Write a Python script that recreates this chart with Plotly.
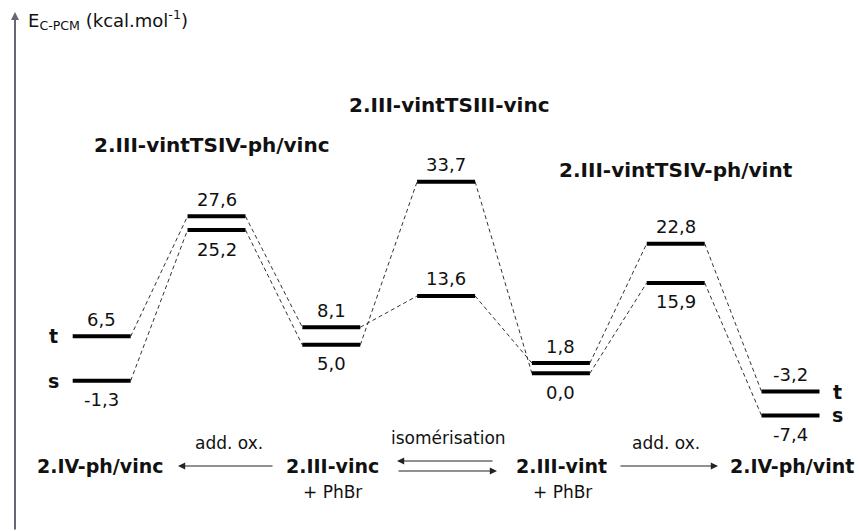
import plotly.graph_objects as go

# energy profile data (kcal/mol), two spin paths
positions = [0, 1, 2, 3, 4, 5, 6]
path_t = [6.5, 27.6, 8.1, 13.6, 1.8, 22.8, -3.2]
path_s = [-1.3, 25.2, 5.0, 33.7, 0.0, 15.9, -7.4]
label_t = ["above"] * 7
label_s = ["below", "below", "below", "above", "below", "below", "below"]

ts_names = ["2.III-vintTSIV-ph/vinc", "2.III-vintTSIII-vinc", "2.III-vintTSIV-ph/vint"]
scheme_names = ["2.IV-ph/vinc", "2.III-vinc", "2.III-vint", "2.IV-ph/vint"]

FONT = "DejaVu Sans"
HALF = 0.2526

# pixel helpers (plot area = whole figure)
X0, DX = 101.7, 114.8
Y0, DY = 373.3, 5.686


def px(p):
    return (p - X0) / DX


def py(p):
    return (Y0 - p) / DY


fig = go.Figure()

for path in [path_t, path_s]:
    bx, by, cx, cy = [], [], [], []
    for i, v in enumerate(path):
        bx += [positions[i] - HALF, positions[i] + HALF, None]
        by += [v, v, None]
        if i < len(path) - 1:
            cx += [positions[i] + HALF, positions[i + 1] - HALF, None]
            cy += [v, path[i + 1], None]
    fig.add_trace(go.Scatter(
        x=cx, y=cy, mode="lines", hoverinfo="skip",
        line=dict(color="#333333", width=1, dash="4px,3px")))
    fig.add_trace(go.Scatter(
        x=bx, y=by, mode="lines", hoverinfo="skip",
        line=dict(color="black", width=4)))

# value labels
for path, where in [(path_t, label_t), (path_s, label_s)]:
    for i, v in enumerate(path):
        fig.add_annotation(
            x=positions[i], y=v, text=("%.1f" % v).replace(".", ","),
            showarrow=False, yanchor="middle",
            yshift=17 if where[i] == "above" else -19,
            font=dict(family=FONT, size=18, color="#111111"))

# spin labels
for txt, v in [("t", path_t[0]), ("s", path_s[0])]:
    fig.add_annotation(x=px(53), y=v, text="<b>%s</b>" % txt, showarrow=False,
                       font=dict(family=FONT, size=19, color="#111111"))
for txt, v in [("t", path_t[6]), ("s", path_s[6])]:
    fig.add_annotation(x=px(837), y=v, text="<b>%s</b>" % txt, showarrow=False,
                       font=dict(family=FONT, size=19, color="#111111"))

# TS names
for name, cxp, cyp in zip(ts_names, [212, 449, 676], [145, 105, 170]):
    fig.add_annotation(x=px(cxp), y=py(cyp), text="<b>%s</b>" % name,
                       showarrow=False,
                       font=dict(family=FONT, size=20, color="#111111"))

# reaction scheme at the bottom
for name, cxp in zip(scheme_names, [100, 332, 561, 792]):
    fig.add_annotation(x=px(cxp), y=py(466), text="<b>%s</b>" % name,
                       showarrow=False,
                       font=dict(family=FONT, size=19, color="#111111"))
for cxp in [332, 562]:
    fig.add_annotation(x=px(cxp), y=py(492), text="+ PhBr", showarrow=False,
                       font=dict(family=FONT, size=17, color="#111111"))
for txt, cxp, cyp in [("add. ox.", 229, 443), ("isomérisation", 448, 438),
                      ("add. ox.", 666, 443)]:
    fig.add_annotation(x=px(cxp), y=py(cyp), text=txt, showarrow=False,
                       font=dict(family=FONT, size=17, color="#111111"))

arrows = [(178, 466, 274, 466), (397, 461, 494, 461),
          (497, 471, 397, 471), (718, 466, 619, 466)]
for hx, hy, tx, ty in arrows:
    fig.add_annotation(x=px(hx), y=py(hy), ax=px(tx), ay=py(ty),
                       xref="x", yref="y", axref="x", ayref="y", text="",
                       showarrow=True, arrowhead=2, arrowsize=1.2,
                       arrowwidth=1.2, arrowcolor="#222222")

# energy axis
fig.add_annotation(x=px(15), y=py(12), ax=px(15), ay=py(531),
                   xref="x", yref="y", axref="x", ayref="y", text="",
                   showarrow=True, arrowhead=2, arrowsize=0.8,
                   arrowwidth=2, arrowcolor="#666677")
fig.add_annotation(x=px(26), y=py(20), xanchor="left",
                   text="E<sub>C-PCM</sub> (kcal.mol<sup>-1</sup>)",
                   showarrow=False,
                   font=dict(family=FONT, size=18, color="#111111"))

fig.update_layout(
    width=859, height=531,
    margin=dict(l=0, r=0, t=0, b=0),
    paper_bgcolor="white", plot_bgcolor="white",
    showlegend=False)
fig.update_xaxes(range=[px(0), px(859)], visible=False)
fig.update_yaxes(range=[py(531), py(0)], visible=False)

fig.write_html("out.html", config={"displayModeBar": False},
               post_script="document.body.style.margin='0px';")
